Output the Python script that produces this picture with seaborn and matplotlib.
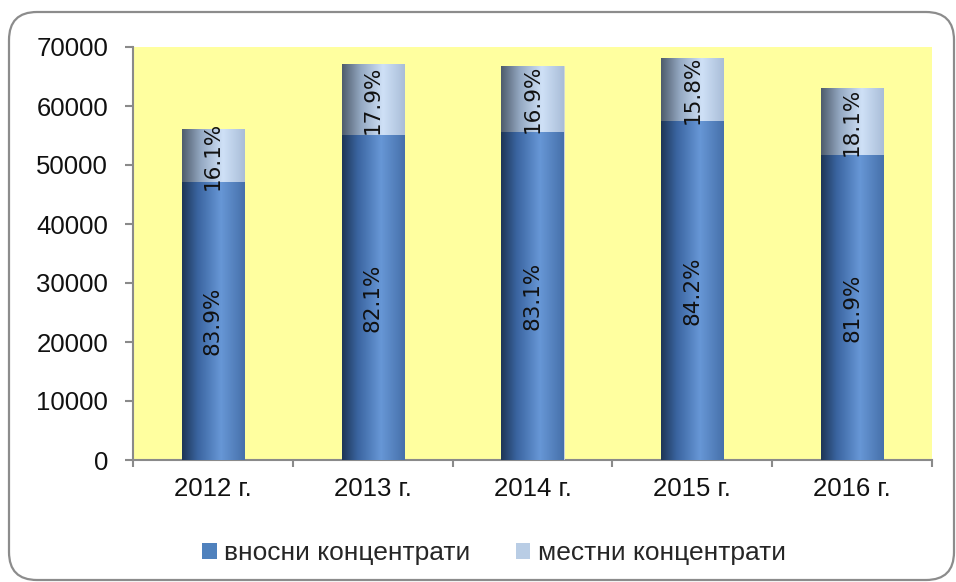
import numpy as np
import pandas as pd
import matplotlib
matplotlib.use("Agg")
import matplotlib.pyplot as plt
from matplotlib.colors import LinearSegmentedColormap
from matplotlib.patches import FancyBboxPatch, Patch
import seaborn as sns

# Data: annual total concentrates and share of imported ones (%)
years = ["2012 г.", "2013 г.", "2014 г.", "2015 г.", "2016 г."]
totals = [56150, 67100, 66800, 68200, 63100]
imported_share = [83.9, 82.1, 83.1, 84.2, 81.9]
local_share = [16.1, 17.9, 16.9, 15.8, 18.1]
series_names = ["вносни концентрати", "местни концентрати"]

imported = [t * s / 100 for t, s in zip(totals, imported_share)]
df = pd.DataFrame({"year": years, "total": totals, "imported": imported})

sns.set_theme(style="white")
plt.rcParams["font.family"] = ["Liberation Sans", "DejaVu Sans"]

DPI = 100
fig = plt.figure(figsize=(9.56, 5.82), dpi=DPI)
ax = fig.add_axes([133 / 956, 1 - 460 / 582, (932 - 133) / 956, (460 - 47) / 582])
ax.set_facecolor("#FFFF9F")

BAR_W = 0.39
sns.barplot(data=df, x="year", y="total", color="#B9CDE5", width=BAR_W, ax=ax,
            saturation=1, zorder=2)
n_top = len(ax.patches)
sns.barplot(data=df, x="year", y="imported", color="#4F81BD", width=BAR_W, ax=ax,
            saturation=1, zorder=3)

# Cylinder-like horizontal shading for the two segments
cm_bottom = LinearSegmentedColormap.from_list(
    "bottom", [(0, "#1E3656"), (0.25, "#3A64A0"), (0.62, "#6797D6"), (1, "#4670AA")])
cm_top = LinearSegmentedColormap.from_list(
    "top", [(0, "#4E5C6C"), (0.3, "#94A8C2"), (0.65, "#CFE1F7"), (1, "#A9BDD8")])
grad = np.linspace(0, 1, 256).reshape(1, -1)

for k, p in enumerate(ax.patches):
    x0, y0 = p.get_x(), p.get_y()
    w, h = p.get_width(), p.get_height()
    cmap = cm_top if k < n_top else cm_bottom
    z = 2 if k < n_top else 3
    im = ax.imshow(grad, extent=[x0, x0 + w, y0, y0 + h], aspect="auto",
                   cmap=cmap, zorder=z, interpolation="bilinear")
    im.set_clip_path(p)
    p.set_facecolor("none")
    p.set_edgecolor("#C8D2DC")
    p.set_linewidth(0.6)

ax.set_xlim(-0.5, len(years) - 0.5)
ax.set_ylim(0, 70000)

# Percentage labels inside segments
for i in range(len(years)):
    ax.text(i, imported[i] / 2, f"{imported_share[i]:.1f}%", rotation=90,
            ha="center", va="center", fontsize=15.5, family="DejaVu Sans",
            color="#111111", zorder=5)
    ax.text(i, imported[i] + (totals[i] - imported[i]) / 2, f"{local_share[i]:.1f}%",
            rotation=90, ha="center", va="center", fontsize=15.5,
            family="DejaVu Sans", color="#111111", zorder=5)

# Axes styling
axis_col = "#8A8A8A"
for side in ["top", "right"]:
    ax.spines[side].set_visible(False)
for side in ["left", "bottom"]:
    ax.spines[side].set_color(axis_col)
    ax.spines[side].set_linewidth(1.5)

ax.set_yticks(range(0, 70001, 10000))
ax.tick_params(axis="y", which="major", direction="out", length=6, width=1.5,
               color=axis_col, pad=12, labelsize=18.5, labelcolor="#111111", left=True)
ax.set_xticks(range(len(years)))
ax.set_xticklabels(years)
ax.set_xticks(np.arange(-0.5, len(years), 1.0), minor=True)
ax.tick_params(axis="x", which="major", length=0, pad=12, labelsize=18.5,
               labelcolor="#111111")
ax.tick_params(axis="x", which="minor", direction="out", length=5, width=1.5,
               color=axis_col, bottom=True)
ax.set_xlabel("")
ax.set_ylabel("")
ax.grid(False)

# Legend
handles = [Patch(facecolor="#4F81BD", edgecolor="none"),
           Patch(facecolor="#B9CDE5", edgecolor="none")]
fig.legend(handles, series_names, loc="center", bbox_to_anchor=(494 / 956, 1 - 553 / 582),
           ncol=2, frameon=False, fontsize=19, handlelength=0.55, handleheight=0.55,
           handletextpad=0.3, columnspacing=1.7)

# Rounded chart border
border = FancyBboxPatch((9, 2), 945, 568, boxstyle="round,pad=0,rounding_size=28",
                        transform=None, facecolor="none", edgecolor="#8C8C8C",
                        linewidth=1.6)
fig.patches.append(border)

fig.savefig("out.png", dpi=DPI)
